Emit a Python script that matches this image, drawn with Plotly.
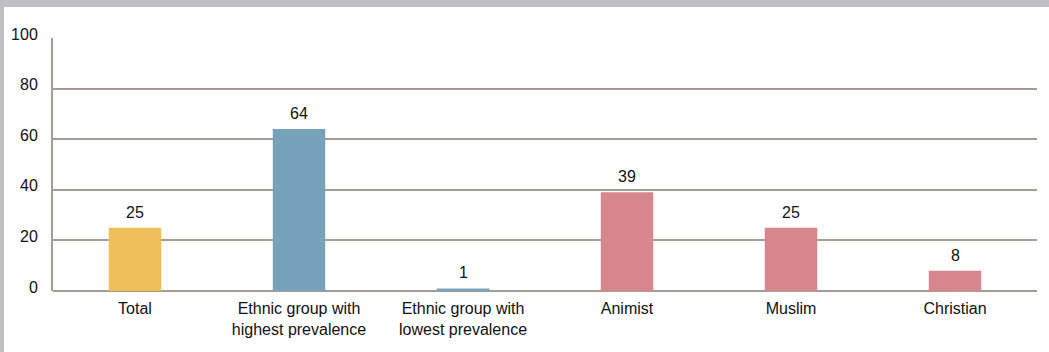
import plotly.graph_objects as go

categories = ["Total", "Ethnic group with<br>highest prevalence", "Ethnic group with<br>lowest prevalence",
              "Animist", "Muslim", "Christian"]
values = [25, 64, 1, 39, 25, 8]
colors = ["#EFBF5A", "#76A3BA", "#76A3BA", "#D8868D", "#D8868D", "#D8868D"]
y_ticks = [0, 20, 40, 60, 80, 100]

GRID = "#A59D93"
FONT = "Liberation Sans, Arial, sans-serif"

fig = go.Figure(go.Bar(
    x=categories, y=values, marker_color=colors, marker_line_width=0,
))

annotations = [dict(x=c, y=v, text=str(v), xref="x", yref="y", showarrow=False,
                    yanchor="bottom", yshift=5,
                    font=dict(size=16, color="#111111", family=FONT))
               for c, v in zip(categories, values)]

fig.update_layout(
    width=1049, height=352,
    margin=dict(l=53, r=12, t=38, b=61, autoexpand=False),
    paper_bgcolor="#BFC0C1",
    plot_bgcolor="rgba(0,0,0,0)",
    bargap=0.68,
    showlegend=False,
    font=dict(family=FONT, size=16, color="#111111"),
    annotations=annotations,
    shapes=[dict(type="rect", xref="paper", yref="paper", layer="below",
                 x0=(4 - 53) / 984, x1=(1060 - 53) / 984,
                 y0=(291 - 360) / 253, y1=(291 - 7) / 253,
                 fillcolor="white", line_width=0)],
)
fig.update_xaxes(showgrid=False, showline=False, ticks="", automargin=False,
                 ticklabelstandoff=6,
                 tickfont=dict(size=16, family=FONT, color="#111111"))
fig.update_yaxes(range=[0, 100], tickvals=y_ticks, showgrid=True, gridcolor=GRID, gridwidth=2,
                 zeroline=True, zerolinecolor=GRID, zerolinewidth=2,
                 showline=True, linecolor=GRID, linewidth=2, automargin=False,
                 ticks="", ticklabelstandoff=10, ticklabelshift=-4,
                 tickfont=dict(size=16, family=FONT, color="#111111"))

fig.write_html("out.html")
